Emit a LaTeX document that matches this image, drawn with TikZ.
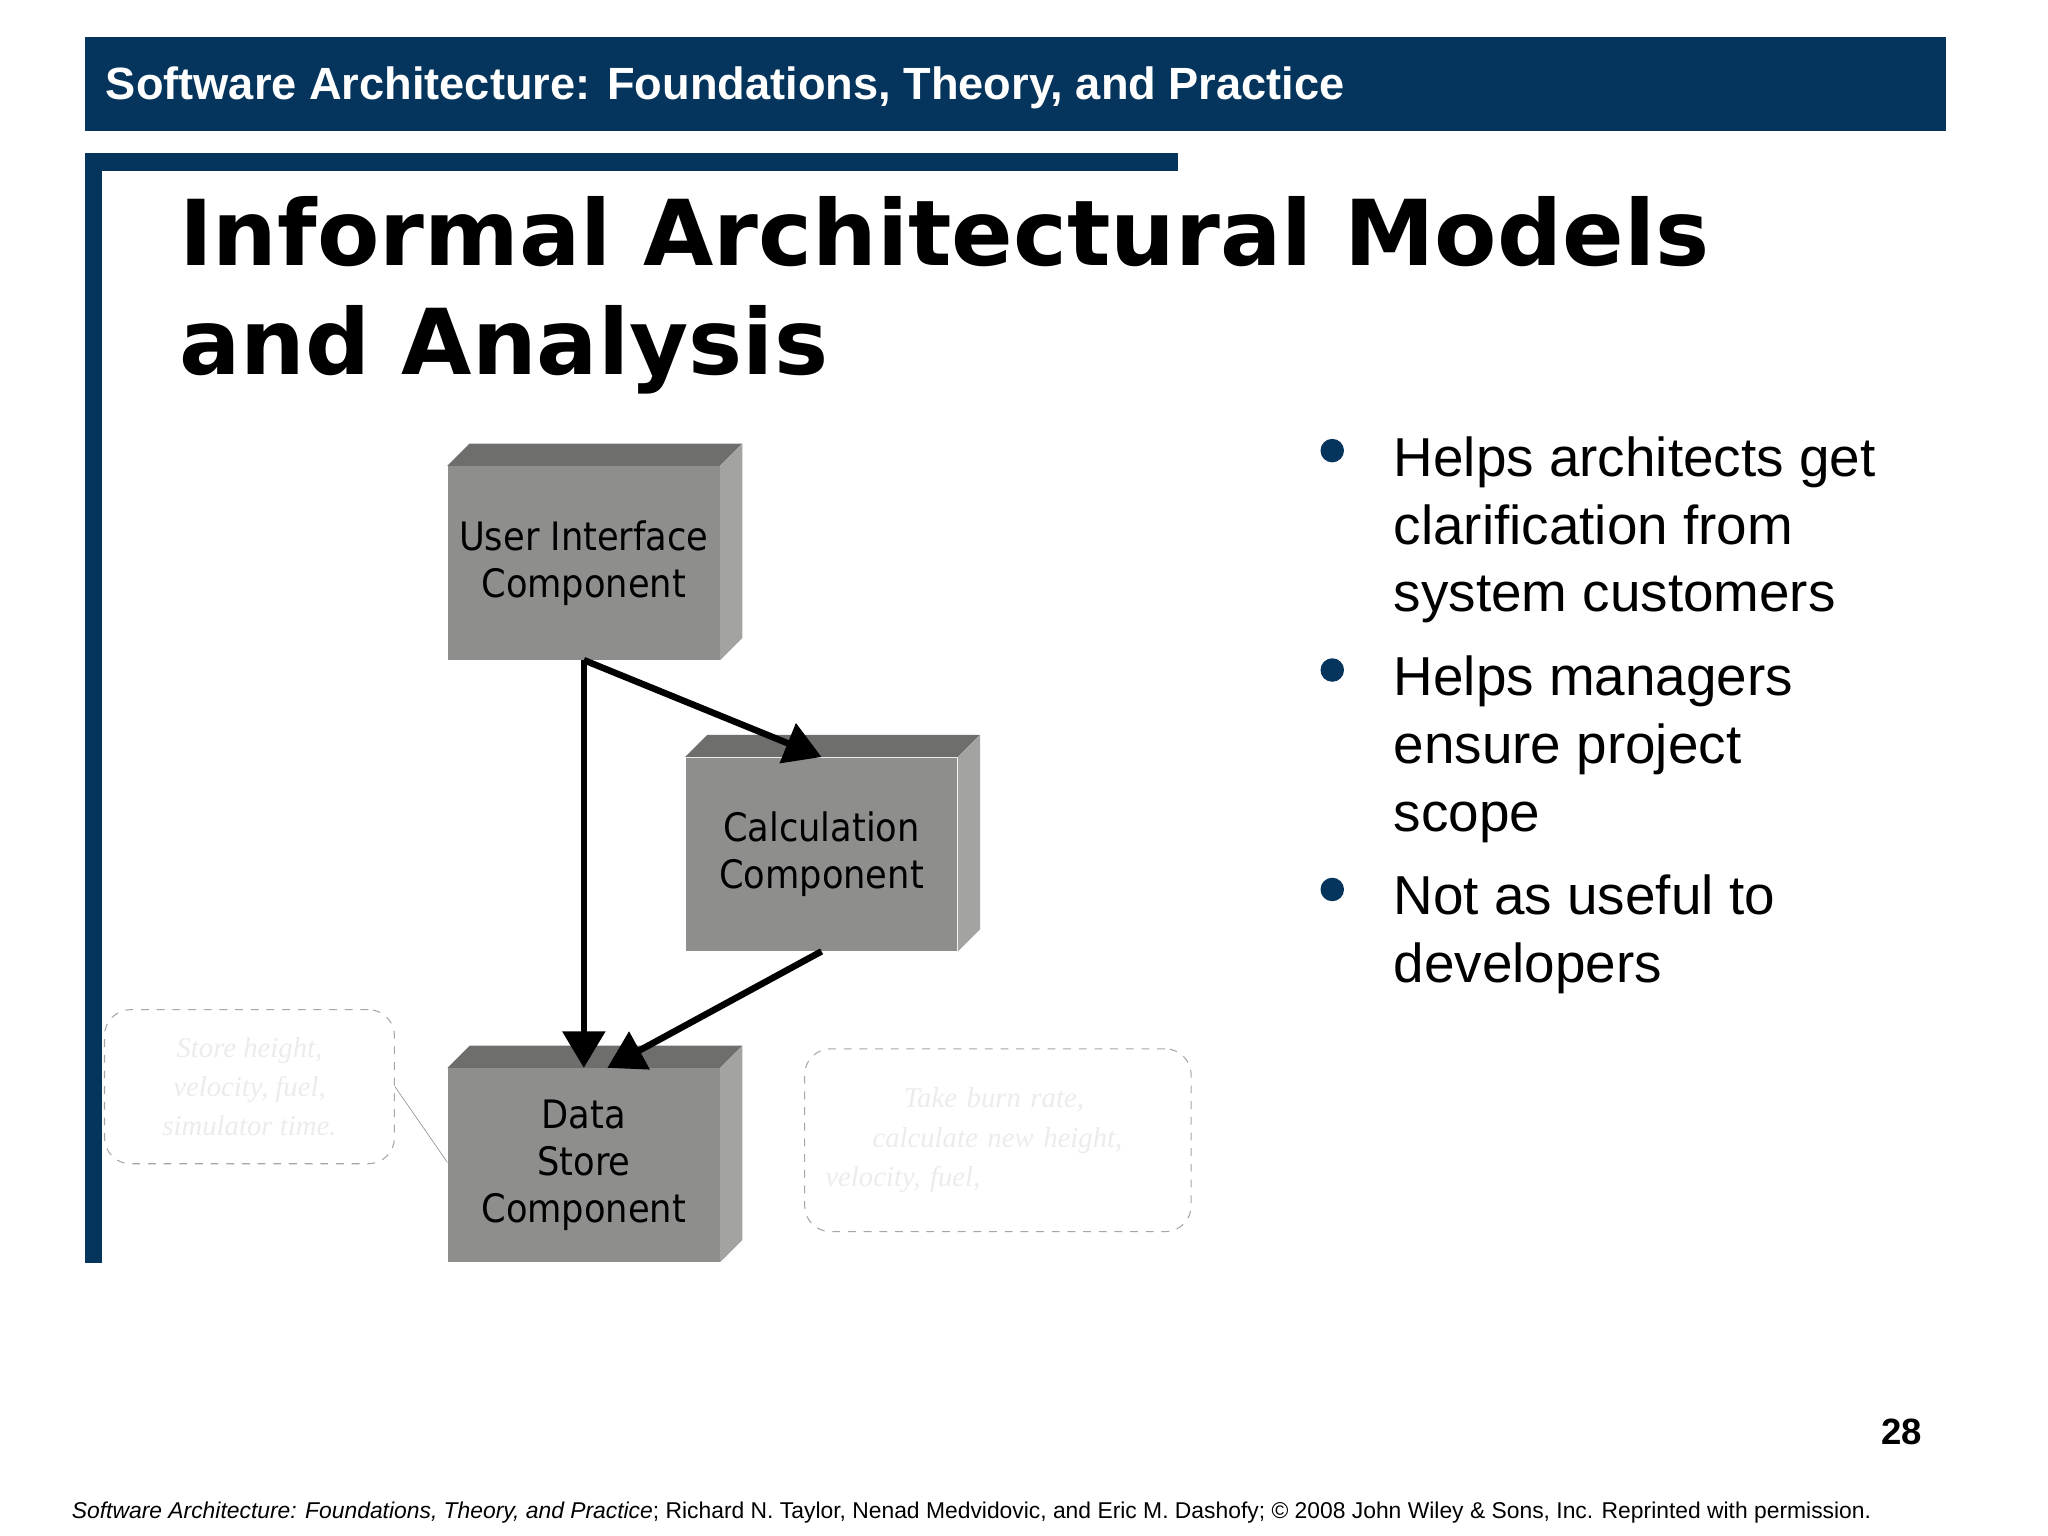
\documentclass[tikz,border=0pt]{standalone}
\usepackage{fontspec}
\setmainfont{Liberation Sans}
\newfontfamily\dvs{DejaVu Sans}
\newfontfamily\dvsc{DejaVu Sans Condensed}
\usetikzlibrary{arrows.meta}
\definecolor{navy}{HTML}{05345C}
\definecolor{topf}{HTML}{6E6F6D}
\definecolor{frontf}{HTML}{8E8F8D}
\definecolor{sidef}{HTML}{A3A4A2}
\tikzset{
 comp/.style={fill=frontf,minimum width=104pt,minimum height=74pt,inner sep=0pt,align=center,font=\dvsc\fontsize{15}{18}\selectfont},
 arr/.style={line width=2.5pt,-{Triangle[length=14pt,width=16pt]}},
 note/.style={draw=gray!70,dashed,rounded corners=10pt,thin,align=center,text=gray!15,font=\fontspec{Liberation Serif}\itshape\fontsize{11}{15}\selectfont},
 bul/.style={anchor=north west,align=left,font=\fontsize{21}{26}\selectfont}
}
\newcommand{\cube}[1]{%
 \fill[topf] (#1.north west) -- ++(8.5pt,8.5pt) -- ([xshift=8.5pt,yshift=8.5pt]#1.north east) -- (#1.north east) -- cycle;
 \fill[sidef] (#1.north east) -- ++(8.5pt,8.5pt) -- ([xshift=8.5pt,yshift=8.5pt]#1.south east) -- (#1.south east) -- cycle;}
\begin{document}
\begin{tikzpicture}[x=0.5pt,y=-0.5pt]
\fill[white] (0,0) rectangle (1568,1176);
\useasboundingbox (0,0) rectangle (1568,1176);
\fill[navy] (65,28) rectangle (1490,100);
\node[anchor=west,text=white,font=\bfseries\fontsize{17.3}{20}\selectfont] (hdr) at (74,67) {Software Architecture: Foundations, Theory, and Practice};
\fill[navy] (65,117) rectangle (78,967);
\fill[navy] (65,117) rectangle (902,131);
\node[anchor=base west,font=\dvs\bfseries\fontsize{34.8}{42}\selectfont] (t1) at (130,203) {Informal Architectural Models};
\node[anchor=base west,font=\dvs\bfseries\fontsize{34.8}{42}\selectfont] (t2) at (130,287) {and Analysis};
% components
\node[comp] (ui) at (447,431) {User Interface\\Component};
\node[comp] (calc) at (629,654) {Calculation\\Component};
\node[comp] (ds) at (447,892) {Data\\Store\\Component};
\cube{ui}\cube{calc}\cube{ds}
\coordinate (uib) at (ui.south);
\draw[arr] (uib) -- (ds.north);
\draw[arr] (uib) -- (calc.north);
\draw[arr] (calc.south) -- ([xshift=9pt]ds.north);
% notes
\node[note,minimum width=111pt,minimum height=59pt] (n1) at (191,832) {Store height,\\velocity, fuel,\\simulator time.};
\node[note,minimum width=148pt,minimum height=70pt,align=left,text width=132pt] (n2) at (764,873) {\hspace*{30pt}Take burn rate,\\ \hspace*{18pt}calculate new height,\\velocity, fuel,\\ };
\draw[gray,very thin] (n1.east) -- (ds.south west |- 0,890);
% bullets
\foreach \y/\n in {345/b1,513/b2,681/b3}{\fill[navy] (1020,\y) circle (9) coordinate (\n);}
\node[bul] (tb1) at (1060,327) {Helps architects get\\clarification from\\system customers};
\node[bul] (tb2) at (1060,495) {Helps managers\\ensure project\\scope};
\node[bul] (tb3) at (1060,663) {Not as useful to\\developers};
\node[font=\bfseries\fontsize{14}{16}\selectfont] (pg) at (1456,1096) {28};
\node[anchor=west,font=\fontsize{8.75}{10}\selectfont] (ft) at (48,1158) {\textit{Software Architecture: Foundations, Theory, and Practice}; Richard N. Taylor, Nenad Medvidovic, and Eric M. Dashofy; \textcopyright{} 2008 John Wiley \& Sons, Inc. Reprinted with permission.};
\end{tikzpicture}
\end{document}
